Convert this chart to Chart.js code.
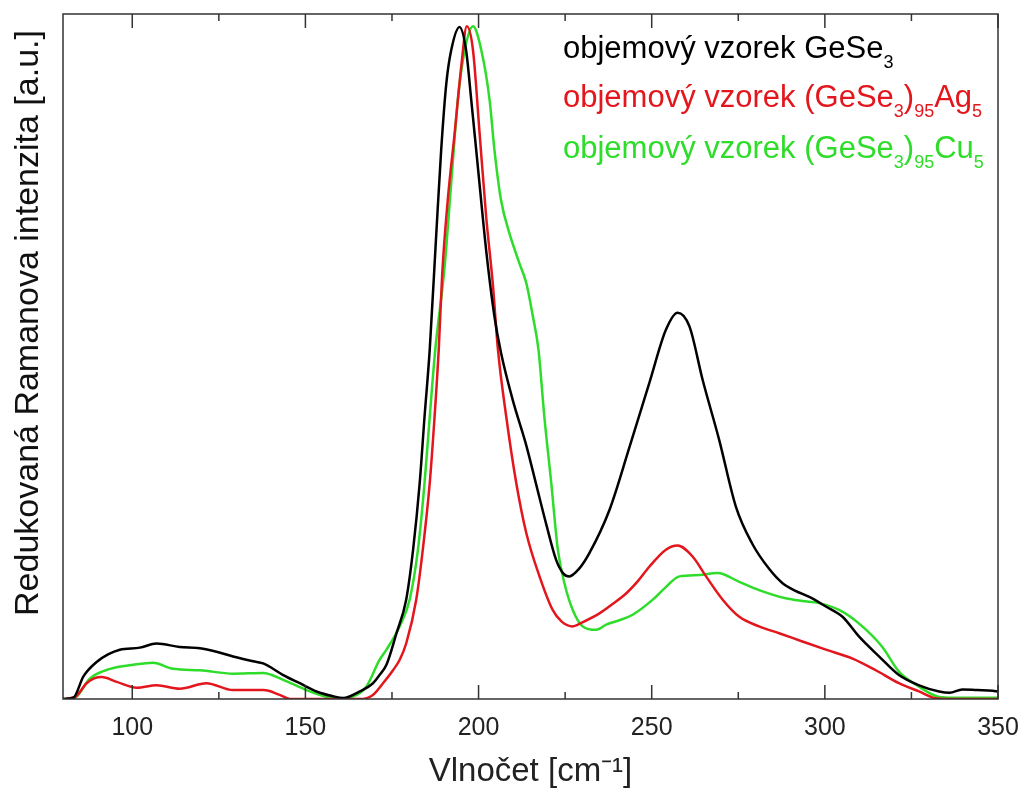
<!DOCTYPE html>
<html>
<head>
<meta charset="utf-8">
<script src="https://cdn.jsdelivr.net/npm/chart.js@4.4.1/dist/chart.umd.min.js"></script>
<style>
  body { margin: 0; background: #fff; }
  #wrap { position: relative; width: 1025px; height: 794px; font-family: "Liberation Sans", Arial, sans-serif; }
  .leg { position: absolute; left: 563px; font-size: 31px; line-height: 31px; white-space: nowrap; }
  .leg sub { font-size: 18px; line-height: 0; vertical-align: -10px; }
  #ytitle { position: absolute; width: 700px; left: -324px; top: 306px; height: 34px; line-height: 34px;
            font-size: 34px; text-align: center; color: #111; transform: rotate(-90deg); white-space: nowrap; }
</style>
</head>
<body>
<div id="wrap">
  <canvas id="ramanChart" width="1025" height="794"></canvas>
  <div id="ytitle">Redukovaná Ramanova intenzita [a.u.]</div>
  <div class="leg" style="top:32px;color:#000">objemový vzorek GeSe<sub>3</sub></div>
  <div class="leg" style="top:81px;color:#e3161d">objemový vzorek (GeSe<sub>3</sub>)<sub>95</sub>Ag<sub>5</sub></div>
  <div class="leg" style="top:132px;color:#2edc2a">objemový vzorek (GeSe<sub>3</sub>)<sub>95</sub>Cu<sub>5</sub></div>
</div>
<script>
// data (wavenumber cm-1 / reduced intensity, peak ~ 98)
const gese3X = [80, 83, 85.9, 89.7, 93, 96.4, 102.2, 107, 113.7, 119.5, 124.3, 129.1, 134.9, 137.8, 143.6, 148.4, 153.2, 158, 160.9, 165.7, 169.5, 171.4, 173.4, 176.3, 179.1, 181.1, 183, 184.4, 185.9, 187.8, 189.2, 190.7, 192.1, 194.5, 196.4, 197.9, 199.8, 202.2, 204.6, 206.5, 209.9, 213.8, 216.6, 219.5, 222.4, 224.5, 226.2, 229, 232, 237.8, 243.6, 249.3, 254.1, 257.5, 260.9, 264.7, 269.5, 274.3, 279, 283.9, 287.8, 291.5, 295.5, 300.3, 305.1, 309.9, 315.7, 321.4, 327.2, 333, 336, 339.7, 344, 348.4, 350];
const gese3Y = [0, 0.2, 3.3, 5.4, 6.5, 7.2, 7.5, 8.1, 7.6, 7.4, 6.9, 6.2, 5.5, 5.2, 3.5, 2.3, 1.1, 0.4, 0.15, 1.1, 2.3, 3.5, 5.0, 9.6, 14.5, 21.8, 31.5, 41.2, 51, 68, 80.1, 89.9, 94.7, 98.1, 94.7, 87.4, 77.7, 65.5, 55.8, 50.5, 43.6, 37.0, 31.4, 25.6, 20.3, 18.3, 17.9, 19, 21.3, 27.6, 36.8, 46.1, 53.9, 56.4, 54.4, 46.6, 37.8, 28.1, 22.7, 19.0, 16.9, 15.8, 14.9, 13.5, 12, 9.1, 6.2, 3.5, 2.0, 1.1, 0.9, 1.4, 1.3, 1.2, 1.1];

const agX = [80, 83.5, 86.8, 89, 91.2, 95.5, 101.3, 107, 113.7, 121.4, 129.1, 137.9, 142.6, 145.5, 165.7, 169.5, 172.4, 175.3, 177.2, 179.1, 182, 183.9, 185.9, 187.3, 188.5, 189.5, 191.1, 193.1, 195, 196.6, 198.4, 200.3, 202.2, 204.1, 205.6, 208, 210.9, 213.8, 217.6, 221.4, 224, 227.2, 230, 234.9, 238.5, 242.6, 246, 249.3, 254.1, 257.5, 261.8, 265.7, 270.5, 275.3, 281, 286.8, 293.5, 300.3, 308, 314.7, 321.4, 327.2, 332, 335, 350];
const agY = [0, 0.3, 2.3, 3.0, 3.2, 2.5, 1.65, 2.0, 1.5, 2.3, 1.3, 1.3, 0.6, 0, 0, 0.6, 2.3, 4.2, 5.7, 8.1, 14.5, 21.8, 31.5, 41.2, 51, 62, 72.8, 82.6, 92.3, 98.2, 94.7, 82.6, 70.4, 60.7, 51, 41.2, 31.5, 24.2, 17.9, 13, 11.3, 10.6, 11.2, 12.5, 13.8, 15.4, 17.2, 19.3, 21.8, 22.4, 20.8, 17.9, 14.5, 12, 10.6, 9.6, 8.4, 7.2, 5.9, 4.2, 2.3, 1.1, 0.1, 0, 0];

const cuX = [80, 83.5, 87.8, 93.6, 100.3, 106, 111.8, 119.5, 129.1, 137.8, 143.6, 150.3, 156.1, 160, 163, 167.6, 171.4, 173.4, 177.2, 180.1, 182.5, 184.4, 185.9, 187.5, 190.2, 192.1, 194, 196, 198.4, 200.8, 203.2, 204.6, 206.5, 208.9, 211.8, 213.8, 215.7, 217.3, 219, 221, 222.9, 224.8, 227.2, 230.1, 234, 237, 240.7, 244.5, 250.3, 254, 258, 263.7, 269, 275.3, 281, 288.7, 293.5, 298.4, 304.1, 309.9, 316.6, 321.4, 327.2, 333, 337, 350];
const cuY = [0, 0.2, 3.0, 4.4, 5.0, 5.3, 4.4, 4.2, 3.7, 3.8, 2.8, 1.3, 0.3, 0, 0.2, 1.8, 5.7, 7.2, 10.6, 14.5, 21.8, 31.5, 41.2, 51, 63.1, 75.3, 87.4, 94.7, 98.2, 94.7, 87.4, 80.1, 72.8, 68, 63.6, 60.7, 55.8, 51, 41.2, 31.5, 21.8, 16.9, 13, 10.6, 10.1, 10.9, 11.5, 12.3, 14.5, 16.3, 17.9, 18.1, 18.4, 17.1, 15.9, 14.7, 14.3, 14, 13, 11, 7.6, 4, 1.8, 0.3, 0.2, 0.2];

const xLabels = [100, 150, 200, 250, 300, 350];
const minorTicks = [125, 175, 225, 275, 325];

const fontFamily = '"Liberation Sans", Arial, sans-serif';

function toPoints(xs, ys) {
    return xs.map((x, i) => ({ x: x, y: ys[i] }));
}

// cadre + petites graduations vers l'interieur (haut et bas)
const framePlugin = {
    id: 'frame',
    afterDatasetsDraw(chart) {
        const { ctx, chartArea: a, scales } = chart;
        ctx.save();
        ctx.strokeStyle = '#333';
        ctx.lineWidth = 1.5;
        ctx.strokeRect(a.left, a.top, a.right - a.left, a.bottom - a.top);
        ctx.beginPath();
        const marks = xLabels.map(v => [v, 14]).concat(minorTicks.map(v => [v, 7]));
        marks.forEach(([v, len]) => {
            const px = scales.x.getPixelForValue(v);
            ctx.moveTo(px, a.bottom);
            ctx.lineTo(px, a.bottom - len);
            ctx.moveTo(px, a.top);
            ctx.lineTo(px, a.top + len);
        });
        ctx.stroke();
        ctx.restore();
    }
};

const ctx = document.getElementById('ramanChart').getContext('2d');
new Chart(ctx, {
    type: 'line',
    data: {
        datasets: [
            { label: 'GeSe3', data: toPoints(gese3X, gese3Y), borderColor: '#000000' },
            { label: '(GeSe3)95Ag5', data: toPoints(agX, agY), borderColor: '#e3161d' },
            { label: '(GeSe3)95Cu5', data: toPoints(cuX, cuY), borderColor: '#2edc2a' }
        ]
    },
    options: {
        responsive: false,
        animation: false,
        devicePixelRatio: 1,
        layout: { padding: { top: 14, right: 27, left: 0, bottom: 0 } },
        elements: {
            point: { radius: 0 },
            line: { borderWidth: 2.5, cubicInterpolationMode: 'monotone', fill: false }
        },
        plugins: { legend: { display: false }, tooltip: { enabled: false } },
        scales: {
            x: {
                type: 'linear',
                min: 80,
                max: 350,
                afterBuildTicks: axis => { axis.ticks = xLabels.map(v => ({ value: v })); },
                afterFit: axis => { axis.height = 95; axis.paddingLeft = 0; axis.paddingRight = 0; },
                grid: { display: false, drawTicks: false },
                border: { display: false },
                ticks: { color: '#222', padding: 14, maxRotation: 0, autoSkip: false,
                         font: { family: fontFamily, size: 25 } },
                title: { display: true, text: 'Vlnočet [cm⁻¹]', color: '#222',
                         font: { family: fontFamily, size: 33 }, padding: { top: 0, bottom: 2 } }
            },
            y: {
                min: 0,
                max: 100,
                afterFit: axis => { axis.width = 63; },
                grid: { display: false },
                border: { display: false },
                ticks: { display: false }
            }
        }
    },
    plugins: [framePlugin]
});
</script>
</body>
</html>
